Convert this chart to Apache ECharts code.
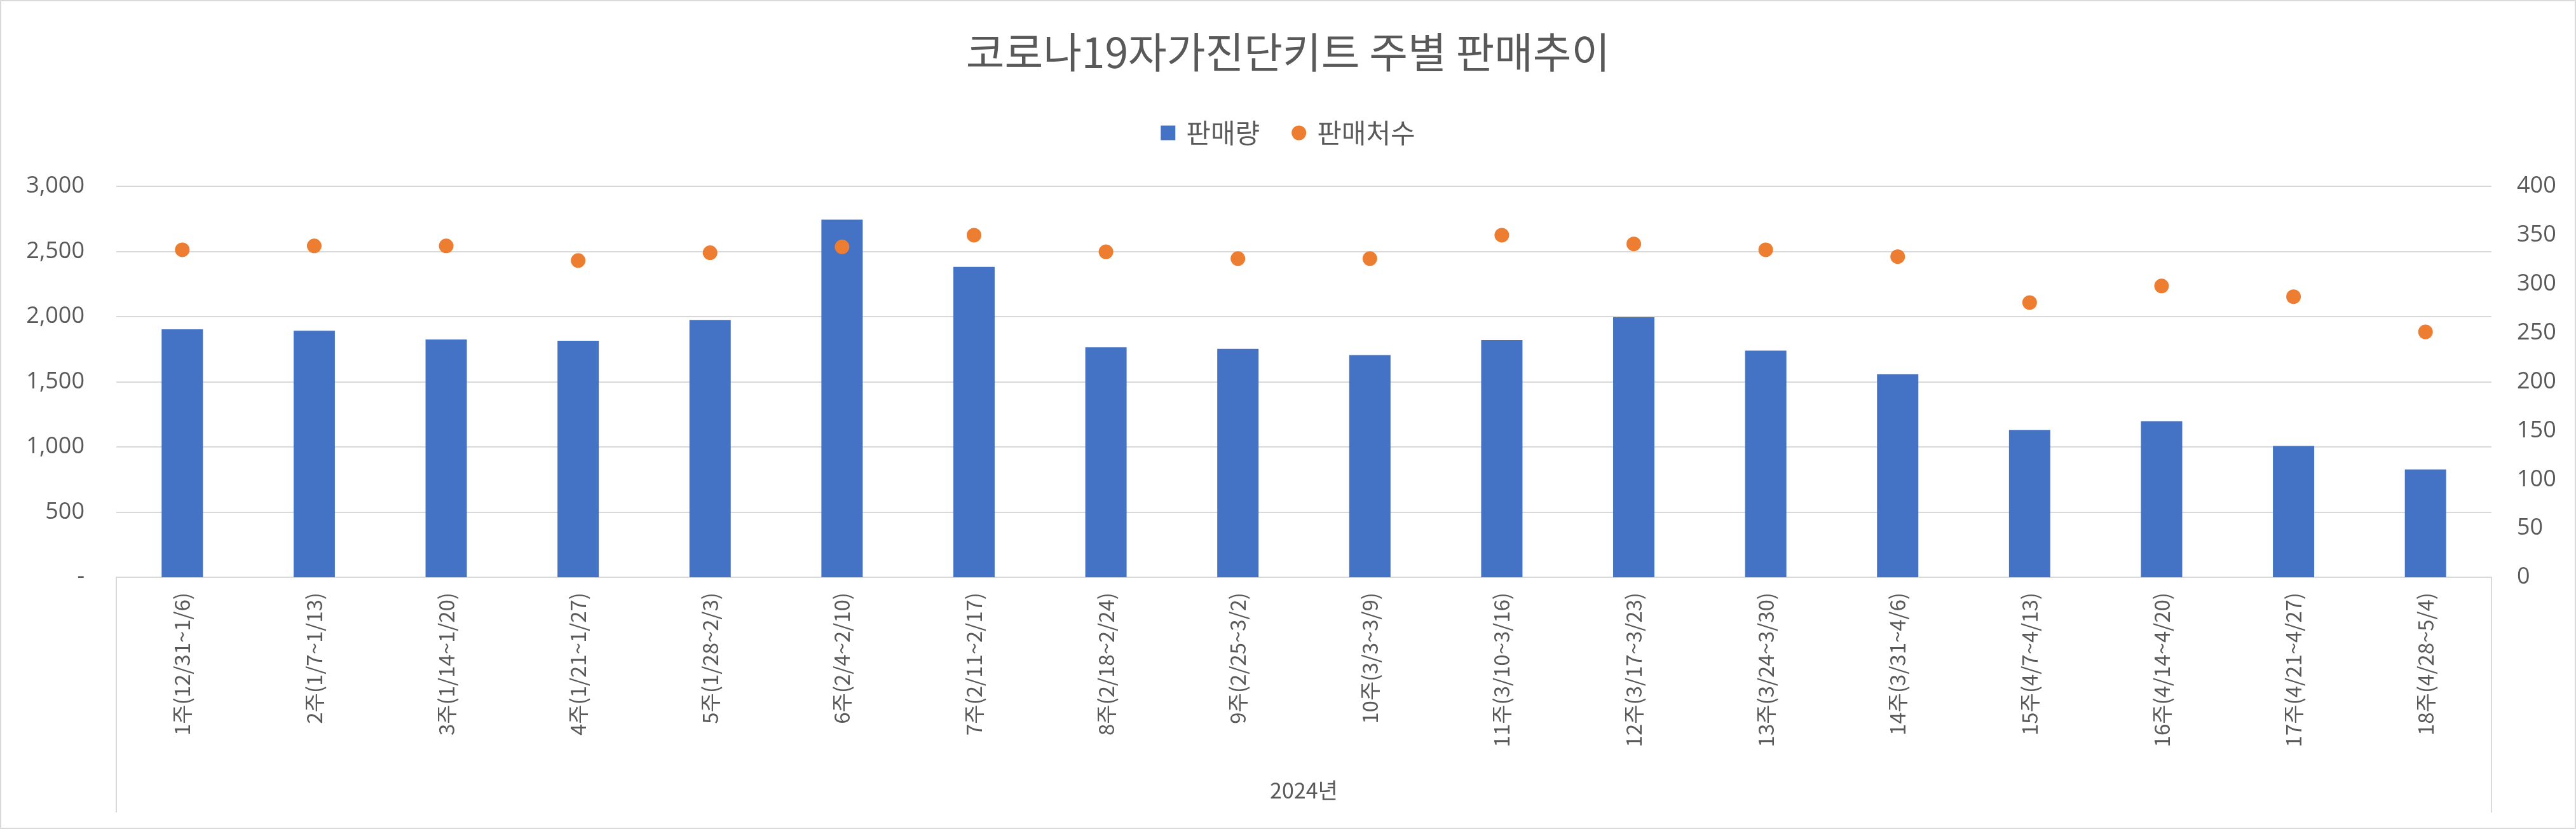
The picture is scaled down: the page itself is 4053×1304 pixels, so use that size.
<!DOCTYPE html>
<html>
<head>
<meta charset="utf-8">
<script src="https://cdn.jsdelivr.net/npm/echarts@6/dist/echarts.min.js"></script>
<style>
html,body{margin:0;padding:0;background:#fff;}
#chart{width:4053px;height:1304px;}
</style>
</head>
<body>
<div id="chart"></div>
<script>
const categories = ['1주(12/31~1/6)', '2주(1/7~1/13)', '3주(1/14~1/20)', '4주(1/21~1/27)', '5주(1/28~2/3)', '6주(2/4~2/10)', '7주(2/11~2/17)', '8주(2/18~2/24)', '9주(2/25~3/2)', '10주(3/3~3/9)', '11주(3/10~3/16)', '12주(3/17~3/23)', '13주(3/24~3/30)', '14주(3/31~4/6)', '15주(4/7~4/13)', '16주(4/14~4/20)', '17주(4/21~4/27)', '18주(4/28~5/4)'];
const salesQty = [1902, 1891, 1824, 1815, 1974, 2744, 2382, 1765, 1752, 1705, 1819, 1995, 1739, 1559, 1130, 1197, 1007, 827];
const storeCount = [335, 339, 339, 324, 332, 338, 350, 333, 326, 326, 350, 341, 335, 328, 281, 298, 287, 251];
const seriesNames = ['판매량', '판매처수'];
const titleText = '코로나19자가진단키트 주별 판매추이';
const xAxisName = '2024년';

const W = 4053, H = 1304;
const G = {left: 183, right: 133, top: 293, bottom: 396};
const gray = '#595959';
const lineGray = '#d9d9d9';
const font = '"Noto Sans CJK KR", "Noto Sans", sans-serif';
const numFont = '"Open Sans", "Noto Sans CJK KR", sans-serif';

const chart = echarts.init(document.getElementById('chart'));
const axisY = H - G.bottom;
chart.setOption({
  backgroundColor: '#fff',
  animation: false,
  title: {
    text: titleText, left: 'center', top: 44,
    textStyle: {fontFamily: font, fontSize: 66, fontWeight: 'normal', color: gray}
  },
  legend: {
    data: [{name: seriesNames[0], icon: 'rect'}, {name: seriesNames[1], icon: 'circle'}],
    top: 183, left: 'center', itemWidth: 23, itemHeight: 23, itemGap: 50,
    textStyle: {fontFamily: font, fontSize: 42, color: gray, padding: [0, 0, 0, 12]}
  },
  grid: {left: G.left, right: G.right, top: G.top, bottom: G.bottom, containLabel: false},
  xAxis: {
    type: 'category', data: categories,
    axisLine: {lineStyle: {color: lineGray, width: 2}},
    axisTick: {show: false},
    axisLabel: {rotate: 90, fontFamily: font, fontSize: 33, color: gray, margin: 24, interval: 0},
    name: xAxisName, nameLocation: 'middle', nameGap: 318,
    nameTextStyle: {fontFamily: font, fontSize: 34, color: gray}
  },
  yAxis: [
    {
      type: 'value', min: 0, max: 3000, interval: 500,
      axisLine: {show: false}, axisTick: {show: false},
      splitLine: {lineStyle: {color: lineGray, width: 2}},
      axisLabel: {fontFamily: numFont, fontSize: 36, color: gray, margin: 50,
        formatter: v => v === 0 ? '-' : v.toLocaleString('en-US')}
    },
    {
      type: 'value', min: 0, max: 400, interval: 50,
      axisLine: {show: false}, axisTick: {show: false}, splitLine: {show: false},
      axisLabel: {fontFamily: numFont, fontSize: 36, color: gray, margin: 40}
    }
  ],
  series: [
    {name: seriesNames[0], type: 'bar', data: salesQty, barWidth: 65, itemStyle: {color: '#4472C4'}},
    {name: seriesNames[1], type: 'scatter', yAxisIndex: 1, data: storeCount, symbol: 'circle', symbolSize: 23, itemStyle: {color: '#ED7D31', opacity: 1}}
  ],
  graphic: [
    {type: 'rect', shape: {x: 1, y: 1, width: W - 2, height: H - 2}, style: {fill: 'none', stroke: lineGray, lineWidth: 2}, silent: true},
    {type: 'line', shape: {x1: G.left, y1: axisY, x2: G.left, y2: 1278}, style: {stroke: lineGray, lineWidth: 2}, silent: true},
    {type: 'line', shape: {x1: W - G.right, y1: axisY, x2: W - G.right, y2: 1278}, style: {stroke: lineGray, lineWidth: 2}, silent: true}
  ]
});
</script>
</body>
</html>
